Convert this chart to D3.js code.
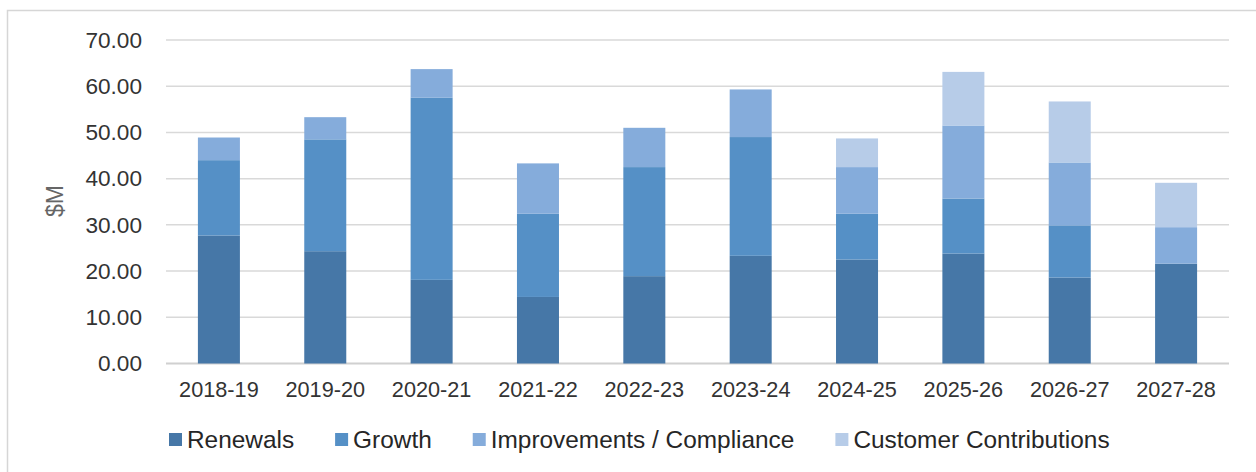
<!DOCTYPE html>
<html>
<head>
<meta charset="utf-8">
<script src="https://cdn.jsdelivr.net/npm/d3@7"></script>
<style>
  html, body { margin: 0; padding: 0; background: #ffffff; }
  svg { display: block; font-family: "Liberation Sans", Arial, sans-serif; }
</style>
</head>
<body>
<svg id="chart" width="1256" height="472"></svg>
<script>
// Capital works by financial year, $M
const years = ["2018-19", "2019-20", "2020-21", "2021-22", "2022-23",
               "2023-24", "2024-25", "2025-26", "2026-27", "2027-28"];
const seriesNames = ["Renewals", "Growth", "Improvements / Compliance", "Customer Contributions"];
const renewals      = [27.7, 24.3, 18.1, 14.4, 18.9, 23.3, 22.5, 23.8, 18.6, 21.6];
const growth        = [16.3, 24.2, 39.4, 18.0, 23.6, 25.7,  9.9, 11.9, 11.3,  0.0];
const improvements  = [ 4.9,  4.8,  6.2, 10.9,  8.5, 10.3, 10.1, 15.8, 13.6,  7.9];
const contributions = [ 0.0,  0.0,  0.0,  0.0,  0.0,  0.0,  6.2, 11.6, 13.2,  9.6];
const yTicks = [0, 10, 20, 30, 40, 50, 60, 70];
const colors = ["#4677a7", "#5590c6", "#85acdb", "#b7cce8"];

const rows = years.map((y, i) => ({
  year: y,
  "Renewals": renewals[i],
  "Growth": growth[i],
  "Improvements / Compliance": improvements[i],
  "Customer Contributions": contributions[i]
}));

const svg = d3.select("#chart");

// outer frame
svg.append("rect")
  .attr("x", 7.5).attr("y", 10.5)
  .attr("width", 1260).attr("height", 480)
  .attr("fill", "#ffffff")
  .attr("stroke", "#d6d6d6").attr("stroke-width", 1.5);

const x = d3.scaleBand().domain(years).range([166, 1229])
  .paddingInner(0.605).paddingOuter(0.3);
const y = d3.scaleLinear().domain([0, 70]).range([363.5, 40]);
const color = d3.scaleOrdinal().domain(seriesNames).range(colors);

// gridlines
svg.append("g")
  .selectAll("line").data(yTicks).join("line")
  .attr("x1", 166).attr("x2", 1229)
  .attr("y1", d => y(d)).attr("y2", d => y(d))
  .attr("stroke", d => d === 0 ? "#d0d0d0" : "#d9d9d9")
  .attr("stroke-width", d => d === 0 ? 2 : 1.5);

// y axis labels
const yAxis = d3.axisLeft(y).tickValues(yTicks).tickFormat(d3.format(".2f"))
  .tickSize(0).tickPadding(0);
const gy = svg.append("g").attr("transform", "translate(142,0)").call(yAxis);
gy.select(".domain").remove();
gy.selectAll("text")
  .attr("font-size", "22.6px").attr("fill", "#333333")
  .attr("font-family", "'Liberation Sans', Arial, sans-serif");

// y axis title
svg.append("text")
  .attr("transform", "translate(63,201) rotate(-90)")
  .attr("text-anchor", "middle")
  .attr("font-size", "23px").attr("fill", "#666666")
  .text("$M");

// stacked bars
const stack = d3.stack().keys(seriesNames);
const layers = stack(rows);
svg.append("g")
  .selectAll("g").data(layers).join("g")
  .attr("fill", d => color(d.key))
  .selectAll("rect").data(d => d).join("rect")
  .attr("x", d => x(d.data.year))
  .attr("width", x.bandwidth())
  .attr("y", d => y(d[1]))
  .attr("height", d => Math.max(0, y(d[0]) - y(d[1])));

// x axis labels
const xAxis = d3.axisBottom(x).tickSize(0).tickPadding(0);
const gx = svg.append("g").attr("transform", "translate(0,0)").call(xAxis);
gx.select(".domain").remove();
gx.selectAll("text")
  .attr("y", 396.5).attr("dy", null)
  .attr("font-size", "21.7px").attr("fill", "#333333")
  .attr("font-family", "'Liberation Sans', Arial, sans-serif");

// legend
const legend = svg.append("g").attr("transform", "translate(169,0)");
let lx = 0;
seriesNames.forEach((name, i) => {
  const item = legend.append("g").attr("transform", `translate(${lx},0)`);
  item.append("rect")
    .attr("x", 0).attr("y", 433).attr("width", 13).attr("height", 13)
    .attr("fill", colors[i]);
  const t = item.append("text")
    .attr("x", 18).attr("y", 448)
    .attr("font-size", "24.4px").attr("fill", "#262626")
    .text(name);
  lx += 18 + t.node().getComputedTextLength() + 41;
});
</script>
</body>
</html>
